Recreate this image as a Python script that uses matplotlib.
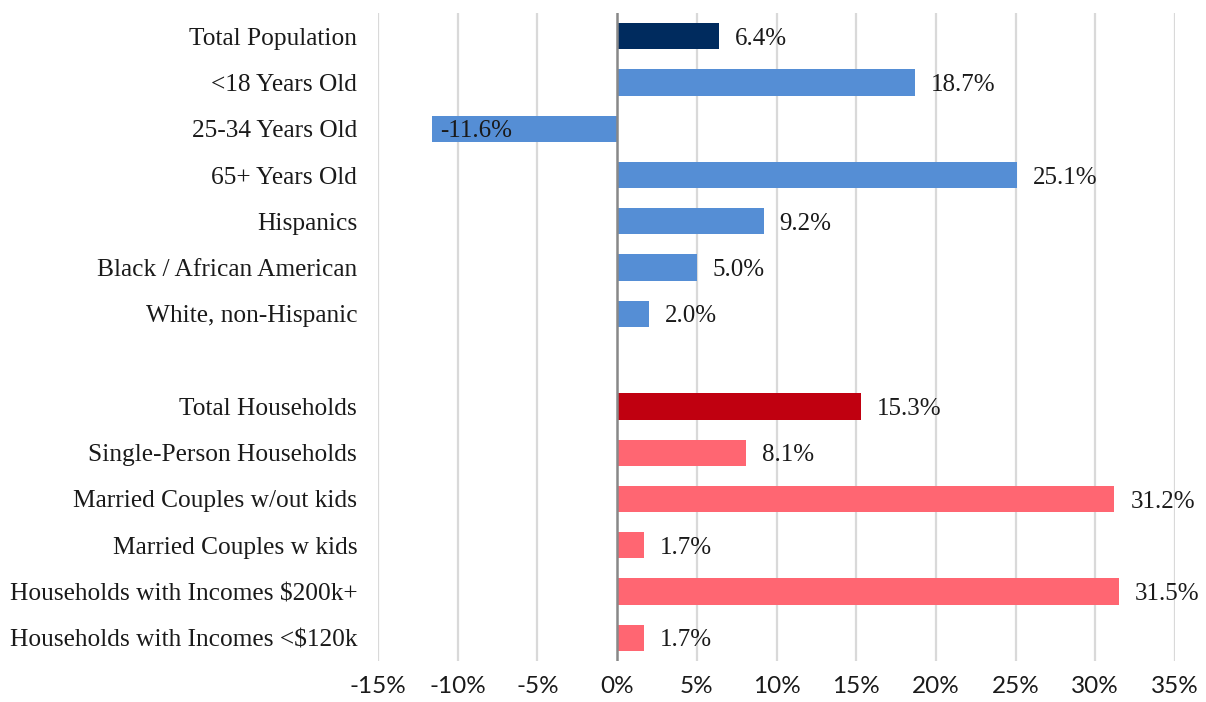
import numpy as np
import matplotlib
matplotlib.use("Agg")
import matplotlib.pyplot as plt

# categories top to bottom, None leaves an empty row between the two groups
categories = ["Total Population", "<18 Years Old", "25-34 Years Old", "65+ Years Old",
              "Hispanics", "Black / African American", "White, non-Hispanic", None,
              "Total Households", "Single-Person Households", "Married Couples w/out kids",
              "Married Couples w kids", "Households with Incomes $200k+",
              "Households with Incomes <$120k"]
values = [6.4, 18.7, -11.6, 25.1, 9.2, 5.0, 2.0, None,
          15.3, 8.1, 31.2, 1.7, 31.5, 1.7]
colors = ["#002B5E", "#558ED5", "#558ED5", "#558ED5", "#558ED5", "#558ED5", "#558ED5", None,
          "#C00010", "#FF6672", "#FF6672", "#FF6672", "#FF6672", "#FF6672"]
xticks = [-15, -10, -5, 0, 5, 10, 15, 20, 25, 30, 35]

fig = plt.figure(figsize=(12.06, 7.02), dpi=100)
ax = fig.add_axes([378/1206, 1 - 661/702, (1175-378)/1206, (661-13)/702])

n = len(categories)
for i in range(n):
    if values[i] is None:
        continue
    y = i
    ax.barh(y, values[i], height=0.57, color=colors[i], zorder=3)
    # labels sit past the end of positive bars, inside the end of negative ones
    off = 1.0 if values[i] >= 0 else 0.5
    ax.text(values[i] + off, y, "%.1f%%" % values[i], va="center_baseline", ha="left",
            fontsize=18, family="Liberation Serif", color="#1a1a1a", zorder=4)

ax.set_ylim(n - 0.5, -0.5)
ax.set_xlim(-15, 35)
ax.set_yticks([i for i in range(n) if categories[i] is not None])
ax.set_yticklabels([c for c in categories if c is not None], family="Liberation Serif",
                   fontsize=18.3, color="#1a1a1a")
ax.set_xticks(xticks)
ax.set_xticklabels(["%d%%" % t for t in xticks], family="Lato", fontsize=17.5, color="#1a1a1a")
ax.tick_params(axis="y", length=0, pad=15)
ax.tick_params(axis="x", length=0, pad=11)

for t in xticks:
    if t != 0:
        ax.axvline(t, color="#d9d9d9", lw=1.6, zorder=1)
ax.axvline(0, color="#888888", lw=1.8, zorder=5)

for s in ax.spines.values():
    s.set_visible(False)

fig.savefig("out.png", dpi=100)
